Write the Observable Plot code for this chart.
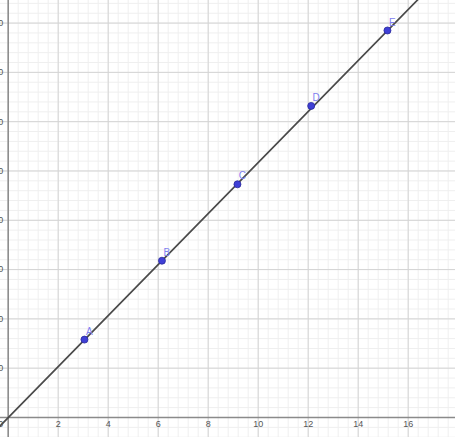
<!DOCTYPE html>
<html>
<head>
<meta charset="utf-8">
<script src="https://cdn.jsdelivr.net/npm/d3@7"></script>
<script src="https://cdn.jsdelivr.net/npm/@observablehq/plot@0.6"></script>
<style>
  html, body { margin: 0; padding: 0; background: #fff; }
  svg { display: block; }
</style>
</head>
<body>
<div id="chart"></div>
<script>
// Point labels and coordinates
const pointLabels = ["A", "B", "C", "D", "E"];
const pointX = [3.05, 6.15, 9.17, 12.12, 15.17];
const pointY = [15.8, 31.8, 47.3, 63.2, 78.5];

// Fitted line through the origin (end points)
const lineX = [-0.5, 18];
const lineY = [-2.6, 93.1];

// Tick labels
const xTicks = [2, 4, 6, 8, 10, 12, 14, 16];
const yTicks = [10, 20, 30, 40, 50, 60, 70, 80];

const points = pointLabels.map((l, i) => ({label: l, x: pointX[i], y: pointY[i]}));
const linePts = lineX.map((x, i) => ({x, y: lineY[i]}));

const xMinor = d3.range(-0.4, 18, 0.4);
const yMinor = d3.range(-4, 86, 2);
const xMajor = d3.range(-2, 19, 2);
const yMajor = d3.range(-10, 90, 10);

const chart = Plot.plot({
  width: 455,
  height: 437,
  margin: 0,
  x: {domain: [-0.308, 17.892], axis: null},
  y: {domain: [-4.06, 84.58], axis: null},
  style: {background: "#fff", fontFamily: "Helvetica, Arial, 'Liberation Sans', sans-serif"},
  marks: [
    Plot.ruleX(xMinor, {stroke: "#efefef", strokeWidth: 1}),
    Plot.ruleY(yMinor, {stroke: "#efefef", strokeWidth: 1}),
    Plot.ruleX(xMajor, {stroke: "#d4d4d4", strokeWidth: 1}),
    Plot.ruleY(yMajor, {stroke: "#d4d4d4", strokeWidth: 1}),
    Plot.ruleX([0], {stroke: "#8a8a8a", strokeWidth: 1.5}),
    Plot.ruleY([0], {stroke: "#8a8a8a", strokeWidth: 1.5}),
    Plot.text(xTicks, {x: d => d, y: 0, dy: 7, text: d => String(d), fill: "#555", fontSize: 9}),
    Plot.text(yTicks, {x: 0, y: d => d, dx: -5, textAnchor: "end", text: d => String(d), fill: "#555", fontSize: 9}),
    Plot.text([0], {x: 0, y: 0, dx: -5, dy: 7, textAnchor: "end", text: d => String(d), fill: "#555", fontSize: 9}),
    Plot.line(linePts, {x: "x", y: "y", stroke: "#4a4a4a", strokeWidth: 1.7, clip: true}),
    Plot.dot(points, {x: "x", y: "y", r: 3.5, fill: "#3f3fd6", stroke: "#2a2a9a", strokeWidth: 0.8}),
    Plot.text(points, {x: "x", y: "y", text: "label", dx: 5, dy: -8, fill: "#8080f0", fontSize: 10})
  ]
});
document.getElementById("chart").appendChild(chart);
</script>
</body>
</html>
